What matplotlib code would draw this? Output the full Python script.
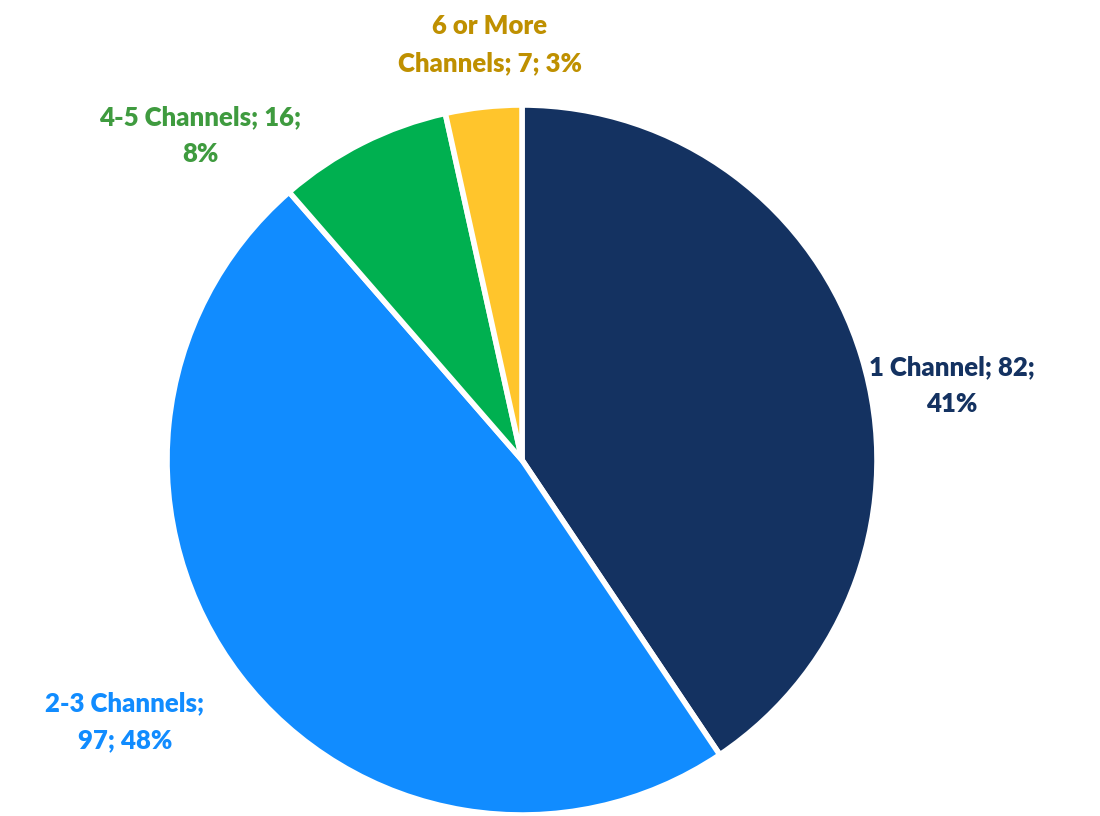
import matplotlib
matplotlib.use("Agg")
from matplotlib import pyplot as plt

# data
categories = ["1 Channel", "2-3 Channels", "4-5 Channels", "6 or More Channels"]
counts = [82, 97, 16, 7]
percents = [41, 48, 8, 3]
label_texts = [
    "1 Channel; 82;\n41%",
    "2-3 Channels;\n97; 48%",
    "4-5 Channels; 16;\n8%",
    "6 or More\nChannels; 7; 3%",
]

# styles
wedge_colors = ["#143261", "#118CFF", "#00B050", "#FFC52C"]
text_colors = ["#143261", "#118CFF", "#3F9B3F", "#BF9000"]
label_pos = [(952, 430), (125, 94), (200, 680), (490, 771)]

plt.rcParams['font.family'] = ['Lato', 'DejaVu Sans']

fig = plt.figure(figsize=(11, 8.16), dpi=100)
ax = fig.add_axes([0, 0, 1, 1])

ax.pie(counts, colors=wedge_colors, startangle=90, counterclock=False,
       center=(522, 356), radius=355, frame=True,
       wedgeprops=dict(edgecolor="white", linewidth=4))
ax.set_xlim(0, 1100)
ax.set_ylim(0, 816)
ax.set_aspect("equal")
ax.axis("off")

for txt, (x, y), c in zip(label_texts, label_pos, text_colors):
    ax.text(x, y, txt, ha="center", va="center", color=c,
            fontsize=18.5, fontweight="heavy", linespacing=1.65)

fig.savefig("out.png", dpi=100)
